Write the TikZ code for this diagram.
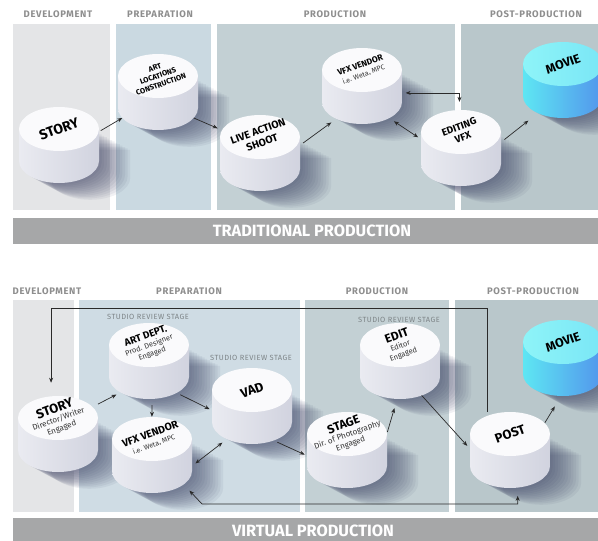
\documentclass[tikz,border=0pt]{standalone}
\usepackage{fontspec}
\setmainfont{Fira Sans}
\newfontfamily\hdrfont[LetterSpace=7]{Fira Sans}
\newfontfamily\srsfont[LetterSpace=6]{Fira Sans}
\usetikzlibrary{arrows.meta,calc}
\definecolor{bgdev}{HTML}{E4E5E7}
\definecolor{bgprep}{HTML}{CAD9E1}
\definecolor{bgprepb}{HTML}{CFDCE4}
\definecolor{bgprod}{HTML}{C3D0D4}
\definecolor{bgpost}{HTML}{B9C7CB}
\definecolor{bannerc}{HTML}{A6A7A8}
\definecolor{hdrc}{HTML}{8E8E8E}
\definecolor{srsc}{HTML}{7E8588}
\definecolor{arrowc}{HTML}{2A2A2A}
\definecolor{shadowc}{HTML}{363B5E}
\definecolor{wtopc}{HTML}{FAFAFC}
\definecolor{wbl}{HTML}{EAEBF1}
\definecolor{wbr}{HTML}{D1D3DF}
\definecolor{mtopl}{HTML}{8EF4F8}
\definecolor{mtopr}{HTML}{7AE6F6}
\definecolor{mbl}{HTML}{5EE6F3}
\definecolor{mbr}{HTML}{5295EC}
\definecolor{subc}{HTML}{333333}
\tikzset{
  hdr/.style={font=\hdrfont\bfseries\fontsize{9.5}{9.5}\selectfont, text=hdrc, inner sep=0},
  bannertxt/.style={font=\bfseries\fontsize{16.3}{16.3}\selectfont, text=white, inner sep=0},
  srs/.style={font=\srsfont\fontsize{7.5}{7.5}\selectfont, text=srsc, inner sep=0},
  cylt/.style={rotate=20, align=center, inner sep=0, text=black},
  cylb/.style={circle, minimum size=88pt, inner sep=0, draw=none},
  arr/.style={-{Stealth[length=5pt,width=4pt]}, line width=0.7pt, draw=arrowc},
  darr/.style={{Stealth[length=5pt,width=4pt]}-{Stealth[length=5pt,width=4pt]}, line width=0.7pt, draw=arrowc},
  wbody/.style={left color=wbl, right color=wbr},
  wtop/.style={fill=wtopc},
  mbody/.style={left color=mbl, right color=mbr},
  mtop/.style={left color=mtopl, right color=mtopr},
}
\newcommand\rg[2]{{\mdseries\color{subc}\fontsize{#1}{#1}\selectfont #2}}
\newcommand\ttl[2]{{\bfseries\fontsize{#1}{#1}\selectfont #2}}
\newcommand\myshadow[2]{%
  \begin{scope}[shift={(#1,#2)}]
  \foreach \k in {1,...,12}{
    \fill[shadowc, fill opacity=0.065, shift={(\k*2.6pt,-\k*1.4pt)}]
      (-40pt,-4pt) -- (-40pt,-32pt) -- (40pt,-32pt) -- (40pt,-4pt) -- cycle
      (0pt,-32pt) ellipse (40pt and 22pt);
  }
  \end{scope}
}
\newcommand\mycyl[6]{%
  \begin{scope}[shift={(#2,#3)}]
    \path[#4body] (-40pt,0pt) -- (-40pt,-32pt) -- (40pt,-32pt) -- (40pt,0pt) -- cycle
      (0pt,-32pt) ellipse (40pt and 22pt);
    \path[#4top] (0pt,0pt) ellipse (40pt and 22pt);
  \end{scope}
  \node[cylb] (#1) at (#2,#3+16) {};
  \node[cylt, #5] (#1-t) at (#2,#3) {#6};
}
\begin{document}
\begin{tikzpicture}[x=1pt,y=-1pt]
\useasboundingbox (0,0) rectangle (598,541);
\fill[white] (0,0) rectangle (598,541);
% ---------- TOP: traditional ----------
\fill[bgdev]  (13,24) rectangle (110,210);
\fill[bgprep] (116,24) rectangle (211,210);
\fill[bgprod] (217,24) rectangle (455,210);
\fill[bgpost] (461,24) rectangle (598,210);
\node[hdr] (h1) at (58,14) {DEVELOPMENT};
\node[hdr] (h2) at (160,14) {PREPARATION};
\node[hdr] (h3) at (335,14) {PRODUCTION};
\node[hdr] (h4) at (536,14) {POST-PRODUCTION};
\fill[bannerc] (13,218) rectangle (598,244);
\node[bannertxt] (b1) at (312,231) {TRADITIONAL PRODUCTION};
% ---------- BOTTOM: virtual ----------
\fill[bgdev]   (13,300) rectangle (74,512);
\fill[bgprepb] (79,300) rectangle (300,512);
\fill[bgprod]  (305,300) rectangle (449,512);
\fill[bgpost]  (455,300) rectangle (598,512);
\node[hdr] (h5) at (47,291) {DEVELOPMENT};
\node[hdr] (h6) at (189,291) {PREPARATION};
\node[hdr] (h7) at (377,291) {PRODUCTION};
\node[hdr] (h8) at (533,291) {POST-PRODUCTION};
\fill[bannerc] (13,518) rectangle (598,541);
\node[bannertxt] (b2) at (313,531) {VIRTUAL PRODUCTION};
\node[srs] (s1) at (148,317) {STUDIO REVIEW STAGE};
\node[srs] (s2) at (251,358) {STUDIO REVIEW STAGE};
\node[srs] (s3) at (399,320) {STUDIO REVIEW STAGE};
% ---------- shadows ----------
\myshadow{59}{129}\myshadow{158}{76}\myshadow{260}{137}\myshadow{362}{70}\myshadow{461}{132}\myshadow{563}{64}
\myshadow{58}{418}\myshadow{149}{345}\myshadow{252}{390}\myshadow{152}{439}\myshadow{347}{434}\myshadow{400}{345}\myshadow{510}{434}\myshadow{563}{342}
% ---------- cylinders top ----------
\mycyl{st1}{59}{129}{w}{font=\bfseries\fontsize{14}{15}\selectfont}{STORY}
\mycyl{art1}{158}{76}{w}{font=\bfseries\fontsize{7.5}{9}\selectfont}{ART\\LOCATIONS\\CONSTRUCTION}
\mycyl{live1}{260}{137}{w}{font=\bfseries\fontsize{10.5}{12}\selectfont}{LIVE ACTION\\SHOOT}
\mycyl{vfx1}{362}{70}{w}{font=\fontsize{7}{9.5}\selectfont}{\ttl{8.5}{VFX VENDOR}\\\rg{7}{i.e. Weta, MPC}}
\mycyl{ed1}{461}{132}{w}{font=\bfseries\fontsize{10}{11.5}\selectfont}{EDITING\\VFX}
\mycyl{mv1}{563}{64}{m}{font=\bfseries\fontsize{12.5}{13}\selectfont}{MOVIE}
% ---------- cylinders bottom ----------
\mycyl{st2}{58}{418}{w}{font=\fontsize{8}{9.5}\selectfont}{\ttl{13}{STORY}\\\rg{8}{Director/Writer}\\\rg{8}{Engaged}}
\mycyl{art2}{149}{345}{w}{font=\fontsize{7.5}{9}\selectfont}{\ttl{10}{ART DEPT.}\\\rg{7.5}{Prod. Designer}\\\rg{7.5}{Engaged}}
\mycyl{vad}{252}{390}{w}{font=\bfseries\fontsize{13}{14}\selectfont}{VAD}
\mycyl{vfx2}{152}{439}{w}{font=\fontsize{7}{10}\selectfont}{\ttl{10.5}{VFX VENDOR}\\\rg{7}{i.e. Weta, MPC}}
\mycyl{stg}{347}{434}{w}{font=\fontsize{8}{9.5}\selectfont}{\ttl{12}{STAGE}\\\rg{8}{Dir. of Photography}\\\rg{8}{Engaged}}
\mycyl{ed2}{400}{345}{w}{font=\fontsize{7.5}{9}\selectfont}{\ttl{12}{EDIT}\\\rg{7.5}{Editor}\\\rg{7.5}{Engaged}}
\mycyl{post}{510}{434}{w}{font=\bfseries\fontsize{13}{14}\selectfont}{POST}
\mycyl{mv2}{563}{342}{m}{font=\bfseries\fontsize{12.5}{13}\selectfont}{MOVIE}
% ---------- connectors top ----------
\draw[arr] (st1.19) -- (art1.216);
\draw[arr, shorten >=4.9pt] (art1.324) -- (live1.149);
\draw[arr, shorten >=3.6pt] (live1.13) -- (vfx1.231);
\draw[darr, shorten <=3.5pt] (vfx1.311) -- (ed1.166);
\draw[darr, shorten >=2pt] (vfx1.351) -| (ed1.92);
\draw[arr, shorten >=9.4pt] (ed1.11) -- (mv1.232);
% ---------- connectors bottom ----------
\coordinate (looptop) at (0,308);
\coordinate (lowc) at (202,504);
\draw[arr, shorten >=7.6pt] (post.121) -- (post.121 |- looptop) -- (st2.99 |- looptop) -- (st2.99);
\draw[arr, shorten <=5.8pt, shorten >=2.7pt] (st2.38) -- (art2.227);
\draw[arr, shorten >=-6pt] (art2.274) -- (vfx2.90);
\draw[arr, shorten <=2pt, shorten >=-2pt] (art2.312) -- (vad.183);
\draw[darr, shorten <=3pt] (vad.232) -- (vfx2.349);
\draw[arr, shorten >=-1.8pt] (vad.305) -- (stg.185);
\draw[arr, shorten >=3.3pt] (stg.24) -- (ed2.264);
\draw[arr, shorten <=-3.5pt, shorten >=-1.7pt] (ed2.303) -- (post.173);
\draw[arr, shorten >=5.4pt] (post.38) -- (mv2.263);
\draw[darr, shorten <=7.5pt, shorten >=2.3pt] (vfx2.317) -- (lowc) -- (post.280 |- lowc) -- (post.280);
\end{tikzpicture}
\end{document}
